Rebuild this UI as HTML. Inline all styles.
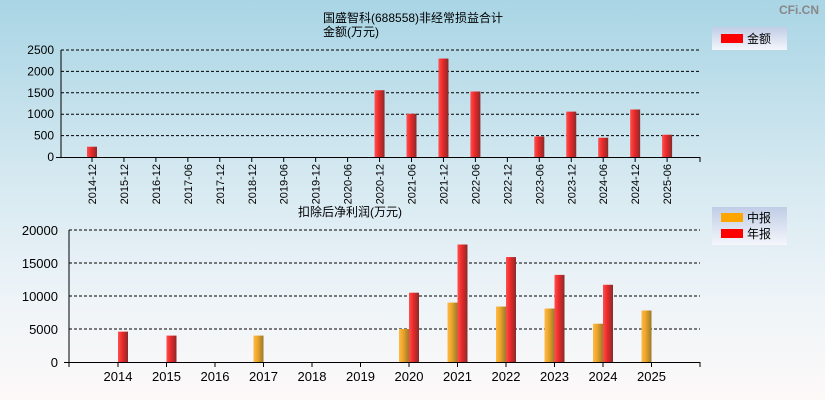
<!DOCTYPE html>
<html><head><meta charset="utf-8"><style>
body{margin:0}
#c{width:825px;height:400px;position:relative;background:linear-gradient(#a9d5e5,#d6e9f1 45%,#eef4f8 75%,#fdf9f9);font-family:"Liberation Sans","Noto Sans CJK SC",sans-serif;overflow:hidden}
svg text{font-family:"Liberation Sans","Noto Sans CJK SC",sans-serif}
</style></head><body>
<div id="c">
<svg id="s" width="825" height="400">
<defs>
<linearGradient id="gr" x1="0" x2="1"><stop offset="0" stop-color="#ff5050"/><stop offset="0.4" stop-color="#ee2a2a"/><stop offset="1" stop-color="#8a2a2a"/></linearGradient>
<linearGradient id="go" x1="0" x2="1"><stop offset="0" stop-color="#ffbb44"/><stop offset="0.4" stop-color="#eea52a"/><stop offset="1" stop-color="#9a7a2a"/></linearGradient>
<linearGradient id="lg" x1="0" y1="0" x2="0" y2="1"><stop offset="0" stop-color="#c0cde6"/><stop offset="1" stop-color="#f4f6fb"/></linearGradient>
</defs>
<text x="779" y="14" font-size="12" fill="#888" font-weight="bold">CFi.CN</text>
<text x="323" y="22" font-size="12">国盛智科(688558)非经常损益合计</text>
<text x="323" y="36" font-size="12">金额(万元)</text>
<text x="298" y="216" font-size="12">扣除后净利润(万元)</text>
<g><rect x="712" y="27" width="75" height="23" fill="url(#lg)"/><rect x="721" y="34" width="22" height="9" fill="#f00"/><text x="747" y="43" font-size="12">金额</text></g>
<g><rect x="712" y="207" width="75" height="38" fill="url(#lg)"/><rect x="721" y="213" width="22" height="9" fill="#ffa500"/><text x="747" y="222" font-size="12">中报</text><rect x="721" y="229" width="22" height="9" fill="#f00"/><text x="747" y="238" font-size="12">年报</text></g>
<g id="top"></g><g id="bot"></g>
</svg></div>
<script>
const topCats=["2014-12","2015-12","2016-12","2017-06","2017-12","2018-12","2019-06","2019-12","2020-06","2020-12","2021-06","2021-12","2022-06","2022-12","2023-06","2023-12","2024-06","2024-12","2025-06"];
const topVals=[240,0,0,0,0,0,0,0,0,1560,1010,2300,1530,0,480,1060,450,1110,520];
const topTicks=[0,500,1000,1500,2000,2500];
const years=["2014","2015","2016","2017","2018","2019","2020","2021","2022","2023","2024","2025"];
const midVals=[0,0,0,4000,0,0,5000,9000,8400,8100,5800,7800];
const annVals=[4600,4000,0,0,0,0,10500,17800,15900,13200,11700,0];
const botTicks=[0,5000,10000,15000,20000];
const NS="http://www.w3.org/2000/svg";
function mk(p,t,a){const e=document.createElementNS(NS,t);for(const k in a)e.setAttribute(k,a[k]);p.appendChild(e);return e;}
const T=document.getElementById('top');
const ty=v=>157-v/2500*107, tx=i=>92+i*31.95;
topTicks.forEach(v=>{
 if(v>0){const l=mk(T,'line',{x1:61,x2:700,y1:ty(v),y2:ty(v),stroke:'#000','stroke-dasharray':'3,2','stroke-width':1});
 
 }
 const t=mk(T,'text',{x:54,y:ty(v)+4,'font-size':12,'text-anchor':'end'});t.textContent=v;
 
 
});
mk(T,'line',{x1:61,x2:61,y1:50,y2:157,stroke:'#000'});
mk(T,'line',{x1:56,x2:700,y1:157.5,y2:157.5,stroke:'#000'});
mk(T,'line',{x1:700,x2:700,y1:157,y2:162,stroke:'#000'});
topCats.forEach((c,i)=>{
 const x=tx(i);
 mk(T,'line',{x1:x,x2:x,y1:157,y2:162,stroke:'#000'});
 const t=mk(T,'text',{x:0,y:0,'font-size':11,'text-anchor':'end',transform:`translate(${x+4},164) rotate(-90)`});t.textContent=c;
 
 
 if(topVals[i]>0){const r=mk(T,'rect',{x:x-5,y:ty(topVals[i]),width:10,height:157-ty(topVals[i]),fill:'url(#gr)'});
 
 }
});
const B=document.getElementById('bot');
const by=v=>362-v/20000*132, bx=i=>118+i*48.5;
botTicks.forEach(v=>{
 if(v>0){const l=mk(B,'line',{x1:69,x2:700,y1:by(v),y2:by(v),stroke:'#000','stroke-dasharray':'3,2'});
 
 }
 const t=mk(B,'text',{x:58,y:by(v)+5,'font-size':13,'text-anchor':'end'});t.textContent=v;
 
 
});
mk(B,'line',{x1:69,x2:69,y1:230,y2:367,stroke:'#000'});
mk(B,'line',{x1:64,x2:700,y1:362.5,y2:362.5,stroke:'#000'});
mk(B,'line',{x1:700,x2:700,y1:362,y2:367,stroke:'#000'});
years.forEach((y,i)=>{
 const x=bx(i);
 mk(B,'line',{x1:x,x2:x,y1:362,y2:367,stroke:'#000'});
 const t=mk(B,'text',{x:x,y:381,'font-size':13,'text-anchor':'middle'});t.textContent=y;
 
 
 if(midVals[i]>0){const r=mk(B,'rect',{x:x-10,y:by(midVals[i]),width:10,height:362-by(midVals[i]),fill:'url(#go)'});
 
 }
 if(annVals[i]>0){const r=mk(B,'rect',{x:x,y:by(annVals[i]),width:10,height:362-by(annVals[i]),fill:'url(#gr)'});
 
 }
});
</script>
</body></html>
